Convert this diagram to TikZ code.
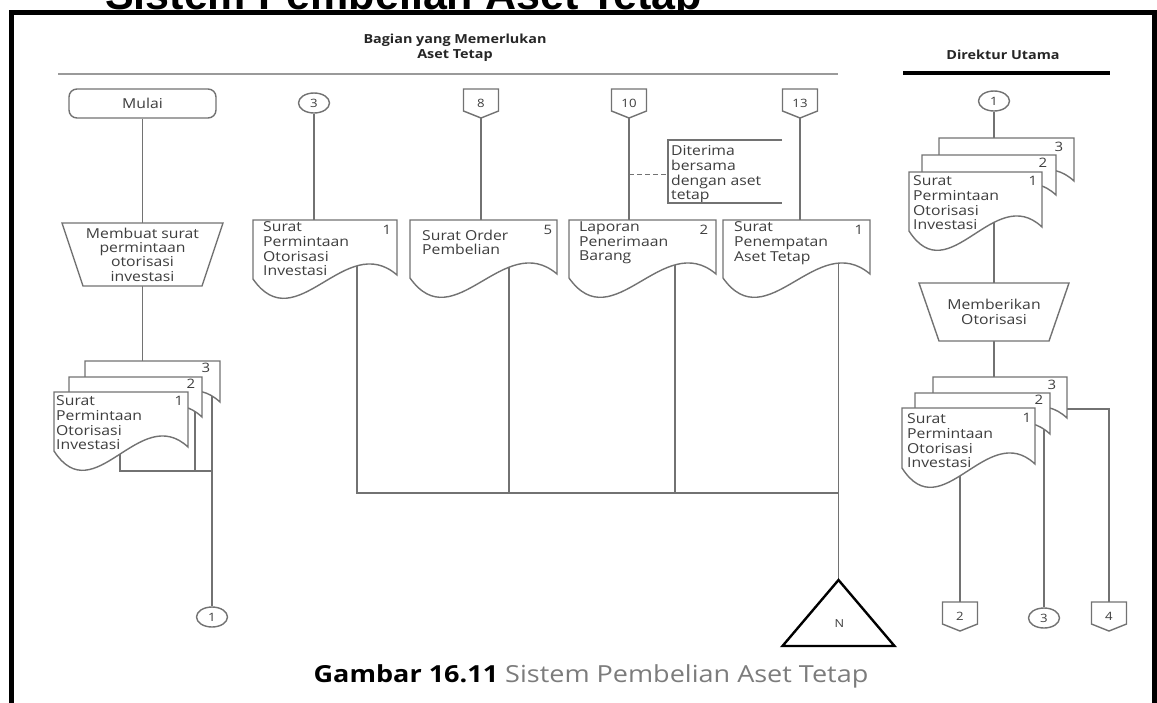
\documentclass[tikz,border=0pt]{standalone}
\usepackage{fontspec}
\setmainfont{Open Sans}[FakeStretch=1.15]
\newfontfamily\titlefont{Liberation Sans}
\usetikzlibrary{shapes.geometric}

\definecolor{lineg}{HTML}{727272}
\definecolor{textg}{HTML}{3E3E3E}
\definecolor{capg}{HTML}{7C7C7C}
\definecolor{ruleg}{HTML}{9A9A9A}

\pgfdeclarelayer{base}
\pgfdeclarelayer{background}
\pgfsetlayers{base,background,main}

\tikzset{
  outline/.style={draw=lineg, line width=1.4pt, fill=white, line join=miter},
  link/.style={draw=lineg, line width=1.4pt},
  holder/.style={inner sep=0pt, outer sep=0pt, draw=none},
  bodytext/.style={text=textg, inner sep=0pt, align=left, font=\fontsize{13.7}{14.7}\selectfont},
  ctrtext/.style={text=textg, inner sep=0pt, align=center, font=\fontsize{13.7}{14.3}\selectfont},
  copyno/.style={text=textg, inner sep=0pt, font=\fontsize{13}{13}\selectfont},
  terminal/.style={outline, rounded corners=8pt, minimum width=147pt, minimum height=29pt, inner sep=0pt, text=textg, font=\fontsize{13.7}{14}\selectfont},
  onpage/.style={outline, ellipse, minimum width=31pt, minimum height=20pt, inner sep=0pt, text=textg, font=\fontsize{11.5}{12}\selectfont},
  pagetext/.style={text=textg, inner sep=0pt, font=\fontsize{11.5}{12}\selectfont},
  headtext/.style={inner sep=0pt, align=center, text=black!85, font=\bfseries\fontsize{12.5}{15}\selectfont},
  mergeline/.style={draw=black, line width=2.4pt, fill=white, line join=miter},
}

% document symbol: name, left, top, right, lower right corner
\newcommand{\docshape}[5]{%
  \pgfmathsetmacro\dW{#4-#2}%
  \pgfmathsetmacro\dH{#5-#3}%
  \pgfmathsetmacro\cAx{#4-0.36*\dW}%
  \pgfmathsetmacro\cAy{#5-45}%
  \pgfmathsetmacro\cBx{#2+0.3*\dW}%
  \pgfmathsetmacro\cBy{#5+66}%
  \pgfmathsetmacro\eY{#5+4}%
  \node[holder, anchor=north west, minimum width=\dW pt, minimum height=\dH pt] (#1) at (#2,#3) {};
  \draw[outline] (#1.north west) -- (#1.north east) -- (#1.south east)
    .. controls (\cAx,\cAy) and (\cBx,\cBy) .. (#2,\eY) -- cycle;
}

% manual operation: name, centre x, top, bottom, top width, inset of lower corners
\newcommand{\manualop}[6]{%
  \pgfmathsetmacro\mH{#4-#3}%
  \node[holder, anchor=north, minimum width=#5pt, minimum height=\mH pt] (#1) at (#2,#3) {};
  \draw[outline] (#1.north west) -- (#1.north east) -- ([xshift=-#6pt]#1.south east)
    -- ([xshift=#6pt]#1.south west) -- cycle;
}

% off-page connector: name, centre x, top, label
\newcommand{\offpage}[4]{%
  \node[holder, anchor=north, minimum width=35pt, minimum height=22pt] (#1) at (#2,#3) {};
  \draw[outline] (#1.north west) -- (#1.north east) -- (#1.south east)
    -- ([yshift=-7pt]#1.south) -- (#1.south west) -- cycle;
  \node[pagetext] (#1-t) at ([yshift=-3pt]#1.center) {#4};
}

\begin{document}
\begin{tikzpicture}[x=1pt,y=-1pt]
\useasboundingbox (0,0) rectangle (1157,702);
\clip (0,0) rectangle (1157,702);

% heading above the frame and the white sheet
\begin{pgfonlayer}{base}
  \node[anchor=base west, inner sep=0pt, font=\titlefont\bfseries\fontsize{43}{43}\selectfont] (title) at (105,9.5) {Sistem Pembelian Aset Tetap};
  \fill[white] (11,12) rectangle (1154,710);
\end{pgfonlayer}
\draw[black, line width=5pt] (11,712) -- (11,12) -- (1154,12) -- (1154,712);

% column headings
\node[headtext] (colA) at (455,47.5) {Bagian yang Memerlukan\\Aset Tetap};
\draw[ruleg, line width=2pt] (58,74) -- (838,74);
\node[headtext] (colB) at (1003,55) {Direktur Utama};
\draw[black, line width=3.2pt] (903,73) -- (1110,73);

% ---------- left: request for investment authorisation ----------
\node[terminal] (start) at (142.5,103.5) {Mulai};
\manualop{opA}{142.5}{223}{286}{161}{21}
\node[ctrtext] (opA-t) at (opA.center) {Membuat surat\\permintaan\\otorisasi\\investasi};

\docshape{ldA}{85}{361}{220}{402}
\node[copyno] (ldA-n) at (206,368) {3};
\docshape{ldB}{69}{377}{202}{417}
\node[copyno] (ldB-n) at (191,384) {2};
\docshape{ldC}{54}{392}{188}{447}
\node[copyno] (ldC-n) at (179,401) {1};
\node[bodytext, anchor=north west] (ldC-t) at (56,395.5) {Surat\\Permintaan\\Otorisasi\\Investasi};

\node[onpage] (endL) at (212,617) {1};

% ---------- middle: documents filed together ----------
\node[onpage] (cA) at (314,103) {3};
\offpage{pB}{481}{89}{8}
\offpage{pC}{629}{89}{10}
\offpage{pD}{800}{89}{13}

\docshape{dA}{253}{220}{397}{275}
\node[copyno] (dA-n) at (387,230) {1};
\node[bodytext, anchor=north west] (dA-t) at (263,221.5) {Surat\\Permintaan\\Otorisasi\\Investasi};

\docshape{dB}{410}{220}{557}{274}
\node[copyno] (dB-n) at (548,230) {5};
\node[bodytext, anchor=north west] (dB-t) at (422,229.5) {Surat Order\\Pembelian};

\docshape{dC}{569}{220}{716}{274}
\node[copyno] (dC-n) at (704,230) {2};
\node[bodytext, anchor=north west] (dC-t) at (579,221.5) {Laporan\\Penerimaan\\Barang};

\docshape{dD}{723}{220}{870}{274}
\node[copyno] (dD-n) at (859,230) {1};
\node[bodytext, anchor=north west] (dD-t) at (734,221.5) {Surat\\Penempatan\\Aset Tetap};

% annotation
\node[bodytext, anchor=north west] (note) at (671,145.5) {Diterima\\bersama\\dengan aset\\tetap};
\draw[link] (782,140) -- (668,140) -- (668,203) -- (782,203);

% file symbol
\node[holder, anchor=north, minimum width=112pt, minimum height=66pt] (tri) at (838.5,580) {};
\draw[mergeline] (tri.north) -- (tri.south east) -- (tri.south west) -- cycle;
\node[pagetext, font=\fontsize{11}{11}\selectfont] (tri-t) at (839.5,624) {N};

% ---------- right: authorisation by the director ----------
\node[onpage] (cR) at (994,101) {1};
\docshape{rtA}{939}{138}{1074}{181}
\node[copyno] (rtA-n) at (1059,147) {3};
\docshape{rtB}{922}{155}{1056}{195}
\node[copyno] (rtB-n) at (1043,163) {2};
\docshape{rtC}{909}{172}{1042}{227}
\node[copyno] (rtC-n) at (1033,181) {1};
\node[bodytext, anchor=north west] (rtC-t) at (913,175.5) {Surat\\Permintaan\\Otorisasi\\Investasi};

\manualop{opB}{994}{283}{341}{150}{20}
\node[ctrtext] (opB-t) at (opB.center) {Memberikan\\Otorisasi};

\docshape{rbA}{933}{377}{1067}{418}
\node[copyno] (rbA-n) at (1052,385) {3};
\docshape{rbB}{915}{393}{1050}{434}
\node[copyno] (rbB-n) at (1039,400) {2};
\docshape{rbC}{902}{408}{1035}{464}
\node[copyno] (rbC-n) at (1027,418) {1};
\node[bodytext, anchor=north west] (rbC-t) at (907,413.5) {Surat\\Permintaan\\Otorisasi\\Investasi};

\offpage{pR2}{960}{602}{2}
\node[onpage] (cR3) at (1044,618) {3};
\offpage{pR4}{1109}{602}{4}

% caption
\node[anchor=base, inner sep=0pt, font=\fontsize{23.5}{24}\selectfont] (caption) at (591,682)
  {\textbf{Gambar 16.11} \textcolor{capg}{Sistem Pembelian Aset Tetap}};

% ---------- flow lines, kept behind the symbols ----------
\begin{pgfonlayer}{background}
  \draw[link] (start) -- (opA);
  \draw[link] (opA) -- (opA |- ldA.center);
  \coordinate (ldC-o) at (120,430);
  \coordinate (ldB-o) at (195,405);
  \coordinate (jL) at (212,471);
  \draw[link] (ldC-o) |- (jL);
  \draw[link] (ldB-o) -- (ldB-o |- jL);
  \draw[link] (endL |- ldA.center) -- (endL);

  \draw[link] (cA) -- (cA |- dA.center);
  \draw[link] (pB) -- (pB |- dB.center);
  \draw[link] (pC) -- (pC |- dC.center);
  \draw[link] (pD) -- (pD |- dD.center);
  \draw[link, dash pattern=on 5pt off 3pt] (pC |- note.west) -- ([xshift=-3pt]note.west);
  \coordinate (dA-o) at (357,250);
  \coordinate (dB-o) at (509,250);
  \coordinate (dC-o) at (675,250);
  \coordinate (dD-o) at (838.5,250);
  \coordinate (jM) at (838.5,493);
  \draw[link] (dA-o) |- (jM);
  \draw[link] (dB-o) -- (dB-o |- jM);
  \draw[link] (dC-o) -- (dC-o |- jM);
  \draw[link] (dD-o) -- (tri.north);

  \draw[link] (cR) -- (cR |- opB.center);
  \draw[link] (opB) -- (opB |- rbA.center);
  \draw[link] (pR2 |- rbC.center) -- (pR2);
  \draw[link] (cR3 |- rbB.center) -- (cR3);
  \draw[link] ([yshift=-11.5pt]rbA.east) -| (pR4);
\end{pgfonlayer}
\end{tikzpicture}
\end{document}
